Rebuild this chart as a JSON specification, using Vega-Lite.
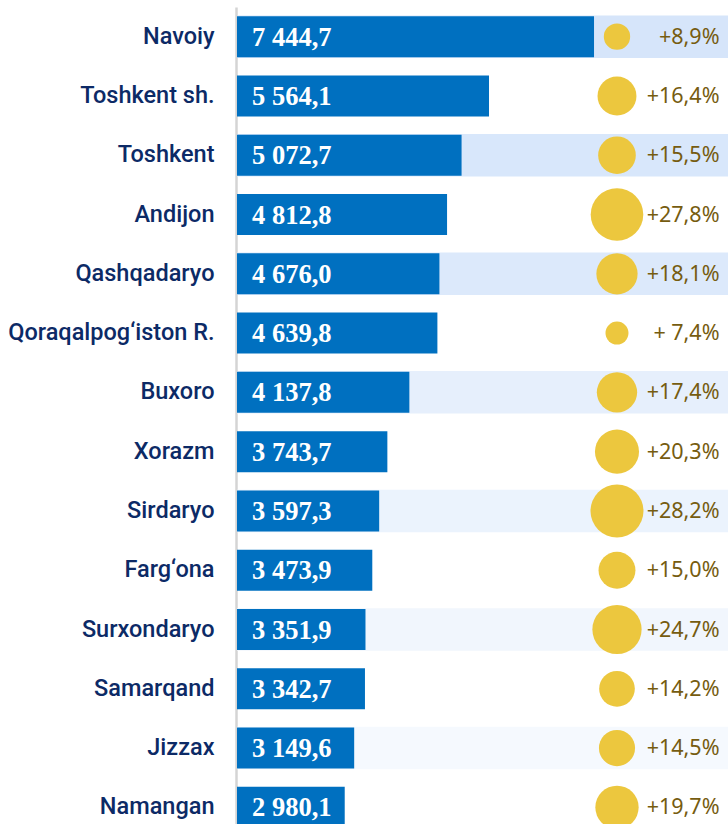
{
  "$schema": "https://vega.github.io/schema/vega-lite/v6.json",
  "width": 491,
  "height": 830,
  "autosize": {"type": "none"},
  "padding": {"left": 237, "top": 7, "right": 0, "bottom": 0},
  "background": "white",
  "config": {
    "view": {"stroke": null}
  },
  "data": {
    "values": [
      {"region": "Navoiy", "value": 7444.7, "growth": 8.9, "pct": "+8,9%"},
      {"region": "Toshkent sh.", "value": 5564.1, "growth": 16.4, "pct": "+16,4%"},
      {"region": "Toshkent", "value": 5072.7, "growth": 15.5, "pct": "+15,5%"},
      {"region": "Andijon", "value": 4812.8, "growth": 27.8, "pct": "+27,8%"},
      {"region": "Qashqadaryo", "value": 4676.0, "growth": 18.1, "pct": "+18,1%"},
      {"region": "Qoraqalpog‘iston R.", "value": 4639.8, "growth": 7.4, "pct": "+ 7,4%"},
      {"region": "Buxoro", "value": 4137.8, "growth": 17.4, "pct": "+17,4%"},
      {"region": "Xorazm", "value": 3743.7, "growth": 20.3, "pct": "+20,3%"},
      {"region": "Sirdaryo", "value": 3597.3, "growth": 28.2, "pct": "+28,2%"},
      {"region": "Farg‘ona", "value": 3473.9, "growth": 15.0, "pct": "+15,0%"},
      {"region": "Surxondaryo", "value": 3351.9, "growth": 24.7, "pct": "+24,7%"},
      {"region": "Samarqand", "value": 3342.7, "growth": 14.2, "pct": "+14,2%"},
      {"region": "Jizzax", "value": 3149.6, "growth": 14.5, "pct": "+14,5%"},
      {"region": "Namangan", "value": 2980.1, "growth": 19.7, "pct": "+19,7%"}
    ]
  },
  "encoding": {
    "y": {
      "field": "region",
      "type": "nominal",
      "sort": {"field": "value", "order": "descending"},
      "scale": {
        "domain": ["Navoiy", "Toshkent sh.", "Toshkent", "Andijon", "Qashqadaryo", "Qoraqalpog‘iston R.", "Buxoro", "Xorazm", "Sirdaryo", "Farg‘ona", "Surxondaryo", "Samarqand", "Jizzax", "Namangan"],
        "paddingInner": 0,
        "paddingOuter": 0
      },
      "axis": {
        "title": null,
        "ticks": false,
        "labelPadding": 22,
        "labelLimit": 0,
        "offset": 1,
        "labelFont": "Roboto",
        "labelFontWeight": 500,
        "labelFontSize": 23.5,
        "labelColor": "#0c2a66",
        "domainColor": "#d4d4d4",
        "domainWidth": 2.5
      }
    }
  },
  "layer": [
    {
      "transform": [{"filter": "indexof(['Navoiy','Toshkent','Qashqadaryo','Buxoro','Sirdaryo','Surxondaryo','Jizzax'], datum.region) >= 0"}],
      "mark": {"type": "bar", "height": 42.5},
      "encoding": {
        "color": {
          "field": "region",
          "type": "nominal",
          "legend": null,
          "scale": {
            "domain": ["Navoiy", "Toshkent", "Qashqadaryo", "Buxoro", "Sirdaryo", "Surxondaryo", "Jizzax"],
            "range": ["#d6e5fa", "#d8e7fb", "#dce9fb", "#e6effc", "#ebf3fd", "#f1f6fd", "#f5f9fe"]
          }
        }
      }
    },
    {
      "mark": {"type": "bar", "height": 41, "color": "#0070c0", "clip": true},
      "encoding": {
        "x": {
          "field": "value",
          "type": "quantitative",
          "scale": {"domain": [1051, 9844], "zero": false, "nice": false},
          "axis": null
        }
      }
    },
    {
      "transform": [{"calculate": "replace(replace(format(datum.value, ',.1f'), ',', ' '), '.', ',')", "as": "vlabel"}],
      "mark": {"type": "text", "align": "left", "baseline": "middle", "dx": 15, "dy": 1, "font": "Liberation Serif", "fontWeight": "bold", "fontSize": 26.5, "color": "white"},
      "encoding": {
        "x": {"datum": 1051, "type": "quantitative"},
        "text": {"field": "vlabel"}
      }
    },
    {
      "mark": {"type": "circle", "opacity": 1, "color": "#ecc73e"},
      "encoding": {
        "x": {"datum": 7856, "type": "quantitative"},
        "size": {
          "field": "growth",
          "type": "quantitative",
          "legend": null,
          "scale": {"domain": [7.4, 28.2], "range": [529, 2809], "zero": false}
        }
      }
    },
    {
      "mark": {"type": "text", "align": "right", "baseline": "middle", "dy": 1, "font": "Noto Sans", "fontSize": 21.5, "color": "#765c10"},
      "encoding": {
        "x": {"datum": 9692, "type": "quantitative"},
        "text": {"field": "pct"}
      }
    }
  ]
}
